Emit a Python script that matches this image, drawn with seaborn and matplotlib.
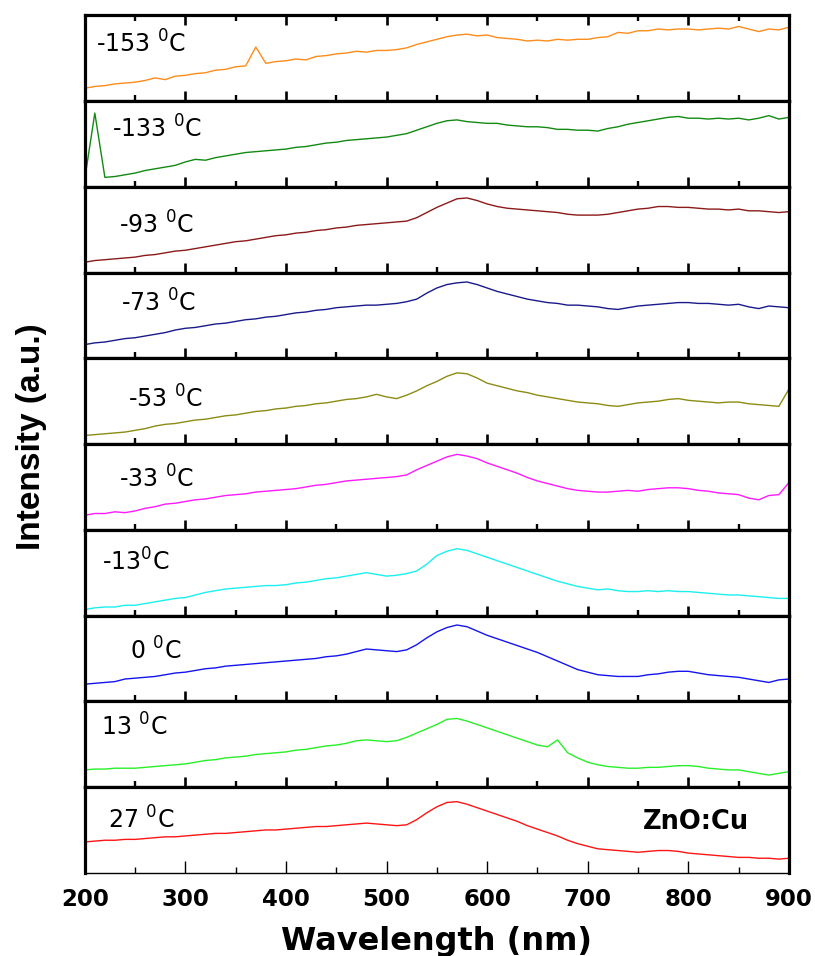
import matplotlib
matplotlib.use("Agg")
import matplotlib.pyplot as plt
import seaborn as sns
import numpy as np
import pandas as pd
from matplotlib.ticker import MultipleLocator

sns.set_style("white")
plt.rcParams['font.family'] = ['DejaVu Sans']
plt.rcParams['mathtext.fontset'] = 'custom'
plt.rcParams['mathtext.rm'] = 'DejaVu Sans'
plt.rcParams['mathtext.default'] = 'regular'
plt.rcParams['text.color'] = 'black'
plt.rcParams['axes.labelcolor'] = 'black'
plt.rcParams['xtick.color'] = 'black'

wavelength = list(range(200, 901, 10))

labels = ["-153 $^{0}$C", "-133 $^{0}$C", "-93 $^{0}$C", "-73 $^{0}$C", "-53 $^{0}$C",
          "-33 $^{0}$C", "-13$^{0}$C", "0 $^{0}$C", "13 $^{0}$C", "27 $^{0}$C"]
colors = ["#ff8c1a", "#128a12", "#8b1a1a", "#1a1a8c", "#8c8c14",
          "#ff19ff", "#1af0f0", "#1414f0", "#28f028", "#ff1414"]

s_m153 = [.15,.17,.18,.20,.21,.22,.24,.27,.25,.29,.30,.32,.33,.36,.37,.40,.41,.63,.44,.46,
          .47,.49,.48,.52,.53,.55,.56,.58,.57,.59,.59,.60,.62,.66,.69,.72,.75,.77,.78,.76,
          .77,.74,.73,.72,.70,.71,.70,.72,.71,.72,.72,.74,.75,.80,.79,.82,.82,.84,.83,.84,
          .84,.83,.84,.85,.84,.87,.84,.81,.84,.83,.86]
s_m133 = [.09,.86,.11,.12,.14,.16,.19,.21,.23,.25,.29,.32,.31,.34,.36,.38,.40,.41,.42,.43,
          .44,.46,.47,.49,.51,.52,.54,.55,.56,.57,.58,.60,.62,.66,.70,.74,.77,.78,.76,.75,
          .74,.74,.72,.71,.70,.70,.69,.67,.67,.66,.66,.65,.68,.70,.73,.75,.77,.79,.81,.82,
          .80,.80,.79,.80,.79,.80,.78,.80,.83,.79,.81]
s_m93 = [.12,.14,.15,.16,.17,.18,.20,.21,.23,.25,.26,.28,.30,.32,.34,.36,.37,.39,.41,.43,
         .44,.46,.47,.49,.50,.52,.53,.55,.56,.57,.58,.59,.60,.64,.70,.76,.81,.86,.87,.84,
         .80,.77,.75,.74,.73,.72,.71,.70,.68,.67,.67,.67,.68,.70,.72,.74,.75,.77,.77,.76,
         .76,.75,.74,.74,.73,.74,.72,.72,.71,.70,.71]
s_m73 = [.16,.18,.19,.21,.23,.24,.26,.28,.30,.33,.35,.36,.38,.40,.41,.43,.45,.46,.48,.49,
         .51,.53,.54,.56,.57,.59,.60,.61,.62,.62,.63,.64,.66,.69,.76,.82,.86,.88,.89,.86,
         .82,.78,.75,.72,.69,.67,.65,.64,.62,.62,.61,.60,.58,.57,.59,.61,.62,.63,.64,.65,
         .65,.64,.64,.63,.62,.63,.60,.58,.61,.60,.59]
s_m53 = [.10,.11,.12,.13,.14,.16,.18,.21,.23,.24,.26,.28,.29,.31,.33,.34,.36,.38,.39,.41,
         .42,.44,.45,.47,.48,.50,.52,.53,.55,.58,.55,.53,.57,.62,.68,.73,.79,.83,.82,.77,
         .71,.68,.65,.62,.60,.57,.55,.53,.51,.49,.48,.47,.45,.44,.46,.48,.49,.50,.52,.53,
         .51,.50,.49,.48,.49,.49,.47,.46,.45,.44,.64]
s_m33 = [.17,.19,.19,.21,.20,.22,.25,.27,.30,.31,.33,.35,.36,.38,.40,.41,.42,.44,.45,.46,
         .47,.48,.50,.52,.53,.55,.57,.58,.59,.60,.61,.62,.64,.70,.75,.80,.85,.88,.86,.83,
         .78,.74,.70,.66,.61,.57,.54,.51,.48,.46,.45,.44,.44,.45,.46,.45,.47,.48,.49,.49,
         .48,.46,.45,.43,.42,.41,.37,.35,.40,.41,.55]
s_m13 = [.07,.09,.10,.10,.12,.12,.14,.16,.18,.20,.21,.24,.27,.29,.31,.32,.33,.34,.35,.35,
         .36,.38,.39,.41,.43,.44,.46,.48,.50,.48,.46,.47,.49,.52,.60,.70,.75,.78,.76,.72,
         .68,.64,.60,.56,.52,.48,.44,.40,.37,.34,.32,.30,.31,.29,.28,.28,.29,.28,.29,.28,
         .28,.27,.26,.25,.24,.24,.23,.22,.21,.20,.20]
s_0 = [.20,.21,.22,.23,.26,.27,.28,.29,.31,.33,.34,.36,.38,.39,.41,.42,.43,.44,.45,.46,
       .47,.48,.49,.50,.52,.53,.55,.58,.61,.60,.59,.58,.60,.66,.74,.81,.86,.89,.87,.82,
       .77,.73,.69,.65,.61,.57,.52,.47,.42,.37,.34,.31,.30,.29,.29,.29,.31,.32,.34,.35,
       .35,.33,.31,.30,.29,.28,.26,.24,.22,.25,.26]
s_13 = [.20,.21,.21,.22,.22,.22,.23,.24,.25,.26,.27,.29,.31,.32,.34,.35,.36,.38,.39,.40,
        .41,.43,.44,.46,.48,.49,.51,.54,.55,.54,.53,.54,.58,.63,.68,.73,.79,.80,.77,.73,
        .69,.65,.61,.57,.53,.49,.47,.55,.40,.34,.29,.26,.24,.23,.22,.22,.23,.23,.24,.25,
        .25,.24,.22,.21,.20,.20,.18,.16,.14,.16,.18]
s_27 = [.36,.37,.38,.38,.39,.39,.40,.41,.42,.42,.43,.44,.45,.46,.46,.47,.48,.49,.50,.50,
        .51,.52,.53,.54,.54,.55,.56,.57,.58,.57,.56,.55,.56,.62,.70,.77,.82,.83,.80,.76,
        .72,.68,.64,.60,.55,.51,.47,.43,.38,.34,.31,.28,.27,.26,.25,.24,.25,.26,.26,.25,
        .23,.22,.21,.20,.19,.18,.18,.17,.17,.16,.17]

series = [s_m153, s_m133, s_m93, s_m73, s_m53, s_m33, s_m13, s_0, s_13, s_27]
label_x = [0.016, 0.038, 0.048, 0.051, 0.061, 0.048, 0.024, 0.064, 0.023, 0.033]
label_y = [0.57, 0.57, 0.45, 0.55, 0.43, 0.49, 0.52, 0.49, 0.60, 0.52]

fig, axes = plt.subplots(10, 1, sharex=True, figsize=(8.15, 9.56), dpi=100,
                         gridspec_kw={'hspace': 0})
fig.subplots_adjust(left=0.104, right=0.968, top=0.984, bottom=0.087)

for i, ax in enumerate(axes):
    df = pd.DataFrame({'wl': wavelength, 'I': series[i]})
    sns.lineplot(data=df, x='wl', y='I', ax=ax, color=colors[i], linewidth=1.0)
    ax.set_xlim(200, 900)
    ax.set_ylim(0, 1)
    ax.set_yticks([])
    ax.set_ylabel('')
    ax.set_xlabel('')
    for sp in ax.spines.values():
        sp.set_linewidth(2.3)
        sp.set_color('black')
    ax.xaxis.set_major_locator(MultipleLocator(100))
    ax.xaxis.set_minor_locator(MultipleLocator(50))
    last = (i == 9)
    ax.tick_params(axis='x', which='major', direction='in',
                   length=8.6 if last else 7.2, width=1.0 if last else 1.9,
                   bottom=True, top=(i == 0), labelbottom=last)
    ax.tick_params(axis='x', which='minor', direction='in',
                   length=4.3 if last else 4.0, width=1.0 if last else 1.7,
                   bottom=True, top=(i == 0))
    if last:
        ax.spines['bottom'].set_linewidth(1.0)
    ax.text(label_x[i], label_y[i], labels[i], transform=ax.transAxes,
            fontsize=17, va='baseline', ha='left', color='black')

axes[-1].text(0.792, 0.51, 'ZnO:Cu', transform=axes[-1].transAxes,
              fontsize=18.5, fontweight='bold', va='baseline', ha='left')
axes[-1].tick_params(axis='x', labelsize=16.5, pad=11)
for lab in axes[-1].get_xticklabels():
    lab.set_fontweight('bold')
fig.text(0.536, 1 - 950 / 956, 'Wavelength (nm)', fontsize=23, fontweight='bold',
         va='baseline', ha='center')
fig.text(0.039, 1 - 437 / 956, 'Intensity (a.u.)', rotation=90, fontsize=24,
         family=['Liberation Sans', 'DejaVu Sans'],
         fontweight='bold', va='center', ha='center')

fig.savefig('out.png', dpi=100)
